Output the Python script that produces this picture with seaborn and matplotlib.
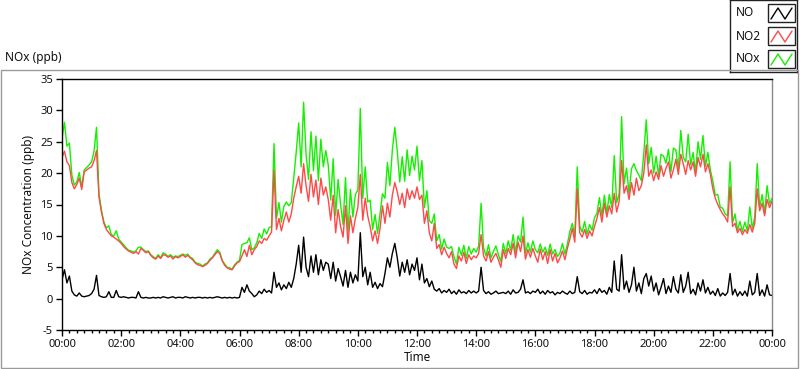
import numpy as np
import pandas as pd
import matplotlib
matplotlib.use("Agg")
import matplotlib.pyplot as plt
import seaborn as sns
from matplotlib.patches import Rectangle
from matplotlib.ticker import MultipleLocator, FuncFormatter

# ---- data: readings every 5 minutes from 00:00 to 24:00 (ppb) ----
interval_min = 5

no = [
    3.0, 4.6, 2.5, 3.6, 1.2, 0.6, 0.4, 0.9, 0.4, 0.3, 0.4, 0.5,
    0.8, 1.5, 3.7, 0.5, 0.3, 0.2, 0.3, 1.1, 0.2, 0.2, 1.3, 0.3,
    0.2, 0.3, 0.2, 0.1, 0.2, 0.2, 0.1, 1.1, 0.2, 0.1, 0.2, 0.1,
    0.1, 0.2, 0.1, 0.2, 0.1, 0.3, 0.2, 0.1, 0.2, 0.3, 0.1, 0.2,
    0.2, 0.1, 0.3, 0.2, 0.1, 0.2, 0.1, 0.2, 0.2, 0.1, 0.2, 0.1,
    0.2, 0.1, 0.2, 0.3, 0.2, 0.1, 0.2, 0.1, 0.2, 0.1, 0.2, 0.1,
    0.2, 1.8, 1.0, 2.2, 1.2, 0.8, 0.3, 0.6, 1.2, 0.8, 1.5, 1.0,
    1.3, 0.9, 4.2, 1.8, 2.5, 1.4, 2.2, 1.6, 2.6, 1.8, 3.2, 5.5,
    8.5, 4.2, 9.8, 5.0, 3.5, 6.8, 4.2, 7.0, 3.8, 6.2, 4.5, 5.8,
    5.5, 3.2, 5.8, 2.8, 4.8, 3.5, 2.0, 4.5, 1.8, 4.2, 2.5, 3.8,
    2.8, 10.5, 3.5, 5.0, 2.2, 4.2, 1.8, 2.6, 1.6, 2.4, 1.9, 4.0,
    6.5, 5.0, 7.2, 8.8, 6.5, 3.6, 5.8, 4.2, 6.2, 3.8, 5.5, 4.5,
    6.5, 3.0, 5.5, 2.5, 3.2, 1.9, 2.8, 1.5, 1.2, 1.6, 0.9, 1.3,
    1.0, 1.5, 0.8, 1.2, 0.7, 1.4, 0.9, 1.1, 0.8, 1.3, 0.9, 1.2,
    0.9, 1.2, 5.0, 1.3, 0.8, 1.1, 0.7, 0.9, 1.2, 0.8, 0.9, 1.0,
    0.8, 1.2, 0.7, 1.4, 0.9, 1.0, 1.5, 3.0, 0.9, 1.1, 0.8, 1.2,
    1.0, 1.5, 0.8, 1.2, 0.7, 1.3, 0.9, 1.1, 0.6, 1.0, 0.8, 1.2,
    0.9, 0.7, 1.2, 0.8, 1.0, 3.5, 1.1, 0.8, 1.3, 0.7, 1.0, 0.9,
    1.4, 0.8, 1.6, 1.0, 1.3, 0.7, 1.8, 1.0, 6.0, 1.5, 1.2, 7.0,
    1.5, 2.8, 1.0, 2.2, 5.0, 1.2, 2.5, 0.8, 3.2, 4.0, 2.0, 3.6,
    1.2, 2.5, 0.6, 1.8, 3.2, 0.8, 2.0, 1.0, 3.5, 1.5, 0.9, 3.8,
    1.0, 2.0, 4.2, 0.8, 1.5, 0.6, 2.5, 1.2, 3.0, 0.9, 1.8, 0.7,
    1.2, 0.5, 1.6, 0.4, 0.9, 0.5, 1.0, 4.0, 0.6, 1.5, 0.4, 1.1,
    0.5, 1.2, 0.4, 2.8, 0.6, 1.0, 4.0, 0.5, 1.4, 0.4, 2.2, 0.6,
    0.5,
]

no2 = [
    22.5, 23.5, 21.8, 21.2, 18.5, 17.5, 18.2, 19.2, 17.4, 20.2, 20.5, 20.8,
    21.0, 22.0, 23.6, 16.2, 13.8, 12.0, 11.0, 10.5, 10.0, 9.8, 9.5, 9.2,
    8.8, 8.3, 7.9, 7.6, 7.4, 7.2, 7.5, 7.1, 8.0, 7.7, 7.3, 7.5,
    6.9, 6.5, 6.3, 6.8, 6.4, 7.0, 6.9, 6.6, 6.8, 6.3, 6.7, 6.5,
    6.7, 7.0, 6.6, 6.9, 6.5, 6.2, 5.7, 5.4, 5.3, 5.1, 5.3, 5.6,
    6.1, 6.5, 7.0, 7.5, 7.2, 6.0, 5.3, 4.9, 4.7, 4.6, 5.2, 5.7,
    5.9, 6.8, 7.8, 6.7, 8.5, 7.0, 7.8, 8.3, 9.2, 8.8, 9.6, 9.3,
    10.0, 10.6, 20.5, 11.0, 12.8, 10.8, 12.5, 13.8, 12.2, 13.5, 16.0, 17.8,
    19.5, 16.8, 21.5, 18.0, 15.5, 19.8, 16.2, 18.9, 15.0, 19.2, 16.5, 17.8,
    15.8, 12.5, 16.5, 10.5, 14.2, 11.5, 9.8, 14.8, 8.8, 13.2, 10.5, 12.8,
    14.5, 19.8, 12.5, 16.0, 13.2, 11.5, 9.2, 10.8, 8.8, 11.2, 14.8, 12.0,
    15.2, 13.0, 16.5, 18.5, 17.0, 15.0, 16.8, 14.5, 17.5, 15.8, 17.2, 16.0,
    17.8, 15.8, 16.5, 12.0, 14.0, 10.5, 9.2, 12.0, 8.0, 8.6, 7.0, 8.2,
    7.2, 6.5, 7.5, 5.5, 4.8, 6.8, 6.0, 7.4, 5.6, 7.0, 6.2, 6.8,
    6.5, 7.2, 10.2, 6.8, 6.0, 7.5, 5.8, 6.6, 7.2, 6.2, 5.0, 7.8,
    6.4, 8.0, 7.0, 8.8, 6.5, 9.0, 7.5, 10.0, 6.3, 7.8, 6.6, 8.0,
    6.8, 5.8, 7.9, 6.2, 7.5, 5.6, 7.8, 6.0, 7.2, 5.7, 6.5, 7.6,
    6.2, 8.0, 9.5, 11.2, 9.0, 17.5, 10.5, 9.8, 11.0, 9.6, 10.8, 10.0,
    11.5, 12.8, 14.5, 12.2, 15.2, 13.0, 14.8, 13.5, 16.8, 13.8, 15.5, 22.0,
    16.8, 18.0, 15.8, 18.5, 16.5, 19.2, 17.2, 18.0, 20.0, 24.5, 19.5, 20.5,
    18.8, 20.2, 19.0, 21.2, 19.5, 20.8, 21.8, 19.2, 20.5, 22.2, 19.8, 23.0,
    21.5, 19.8, 22.0, 20.5, 21.8, 19.5, 22.5, 21.0, 23.0, 20.2, 21.5, 19.8,
    17.5, 16.0, 15.0, 14.2, 13.5, 13.0, 12.2, 17.8, 11.5, 12.0, 10.5, 11.2,
    10.2, 11.0, 10.4, 11.8, 10.6, 12.0, 17.5, 14.0, 15.2, 13.2, 15.8, 14.5,
    15.5,
]

nox = [
    25.5, 28.1, 24.3, 24.8, 19.7, 18.1, 18.6, 20.1, 17.8, 20.5, 20.9, 21.3,
    21.8, 23.5, 27.3, 16.7, 14.1, 12.2, 11.3, 11.6, 10.2, 10.0, 10.8, 9.5,
    9.0, 8.6, 8.1, 7.7, 7.6, 7.4, 7.6, 8.2, 8.2, 7.8, 7.5, 7.6,
    7.0, 6.7, 6.4, 7.0, 6.5, 7.3, 7.1, 6.7, 7.0, 6.6, 6.8, 6.7,
    6.9, 7.1, 6.9, 7.1, 6.6, 6.4, 5.8, 5.6, 5.5, 5.2, 5.5, 5.7,
    6.3, 6.6, 7.2, 7.8, 7.4, 6.1, 5.5, 5.0, 4.9, 4.7, 5.4, 5.8,
    6.1, 8.6, 8.8, 8.9, 9.7, 7.8, 8.1, 8.9, 10.4, 9.6, 11.1, 10.3,
    11.3, 11.5, 24.7, 12.8, 15.3, 12.2, 14.7, 15.4, 14.8, 15.3, 19.2, 23.3,
    28.0, 21.0, 31.3, 23.0, 19.0, 26.6, 20.4, 25.9, 18.8, 25.4, 21.0, 23.6,
    21.3, 15.7, 22.3, 13.3, 19.0, 15.0, 11.8, 19.3, 10.6, 17.4, 13.0, 16.6,
    17.3, 30.3, 16.0, 21.0, 15.4, 15.7, 11.0, 13.4, 10.4, 13.6, 16.7, 16.0,
    21.7, 18.0, 23.7, 27.3, 23.5, 18.6, 22.6, 18.7, 23.7, 19.6, 22.7, 20.5,
    24.3, 18.8, 22.0, 14.5, 17.2, 12.4, 12.0, 13.5, 9.2, 10.2, 7.9, 9.5,
    8.2, 8.0, 8.3, 6.7, 5.5, 8.2, 6.9, 8.5, 6.4, 8.3, 7.1, 8.0,
    7.4, 8.4, 15.2, 8.1, 6.8, 8.6, 6.5, 7.5, 8.4, 7.0, 5.9, 8.8,
    7.2, 9.2, 7.7, 10.2, 7.4, 10.0, 9.0, 13.0, 7.2, 8.9, 7.4, 9.2,
    7.8, 7.3, 8.7, 7.4, 8.2, 6.9, 8.7, 7.1, 7.8, 6.7, 7.3, 8.8,
    7.1, 8.7, 10.7, 12.0, 10.0, 21.0, 11.6, 10.6, 12.3, 10.3, 11.8, 10.9,
    12.9, 13.6, 16.1, 13.2, 16.5, 13.7, 16.6, 14.5, 22.8, 15.3, 16.7, 29.0,
    18.3, 20.8, 16.8, 20.7, 21.5, 20.4, 19.7, 18.8, 23.2, 28.5, 21.5, 24.1,
    20.0, 22.7, 19.6, 23.0, 22.7, 21.6, 23.8, 20.2, 24.0, 23.7, 20.7, 26.8,
    22.5, 21.8, 26.2, 21.3, 23.3, 20.1, 25.0, 22.2, 26.0, 21.1, 23.3, 20.5,
    18.7, 16.5, 16.6, 14.6, 14.4, 13.5, 13.2, 21.8, 12.1, 13.5, 10.9, 12.3,
    10.7, 12.2, 10.8, 14.6, 11.2, 13.0, 21.5, 14.5, 16.6, 13.6, 18.0, 15.1,
    16.0,
]

series_names = ["NO", "NO2", "NOx"]
series_colors = {"NO": "#000000", "NO2": "#FF4848", "NOx": "#14F000"}

n = len(no)
hours = np.arange(n) * interval_min / 60.0

df = pd.DataFrame({
    "hours": np.concatenate([hours, hours, hours]),
    "value": nox + no2 + no,
    "series": ["NOx"] * n + ["NO2"] * n + ["NO"] * n,
})

sns.set_theme(style="white")
plt.rcParams["font.family"] = ["Noto Sans", "DejaVu Sans"]
plt.rcParams["axes.unicode_minus"] = False

W, H = 800, 369
fig = plt.figure(figsize=(W / 100, H / 100), dpi=100)
fig.patch.set_facecolor("white")

# outer panel frame
fig.add_artist(Rectangle((1 / W, 1 / H), 797 / W, (368 - 70) / H,
                         transform=fig.transFigure, fill=False,
                         ec="#9a9a9a", lw=1.0))

ax = fig.add_axes([62 / W, 1 - 330 / H, 710 / W, 251 / H])
ax.set_facecolor("white")
sns.lineplot(data=df, x="hours", y="value", hue="series",
             hue_order=["NOx", "NO2", "NO"], palette=series_colors,
             linewidth=1.0, estimator=None, sort=False, legend=False, ax=ax)

ax.set_xlim(0, 24)
ax.set_ylim(-5, 35)
ax.xaxis.set_major_locator(MultipleLocator(2))
ax.xaxis.set_minor_locator(MultipleLocator(0.25))
ax.xaxis.set_major_formatter(FuncFormatter(lambda v, p: f"{int(round(v)) % 24:02d}:00"))
ax.yaxis.set_major_locator(MultipleLocator(5))
ax.tick_params(axis="both", which="major", direction="out", length=4.5, width=1,
               color="black", labelsize=8, labelcolor="#101010", pad=2,
               bottom=True, left=True)
ax.tick_params(axis="x", which="minor", direction="out", length=2.5, width=1,
               color="black", bottom=True)
ax.set_xlabel("Time", fontsize=8.5, color="#101010", labelpad=1)
ax.set_ylabel("NOx Concentration (ppb)", fontsize=8.5, color="#101010", labelpad=4)
for side in ["left", "bottom", "top"]:
    ax.spines[side].set_color("black")
    ax.spines[side].set_linewidth(1)
ax.spines["right"].set_color("#888888")
ax.spines["right"].set_linewidth(1)
ax.grid(False)

fig.text(5 / W, 1 - 57 / H, "NOx (ppb)", fontsize=8.5, color="#101010",
         ha="left", va="center")

# LabVIEW-style legend box at top right
lax = fig.add_axes([730 / W, 1 - 72 / H, 67 / W, 72 / H])
lax.set_xlim(0, 67)
lax.set_ylim(72, 0)
lax.set_facecolor("white")
for s in lax.spines.values():
    s.set_color("#222222")
    s.set_linewidth(1)
lax.set_xticks([])
lax.set_yticks([])
for i, name in enumerate(series_names):
    cy = 13 + i * 23
    lax.text(6, cy, name, fontsize=8.5, color="#101010", ha="left", va="center")
    lax.add_patch(Rectangle((38, cy - 9), 27, 18, fill=False, ec="#222222", lw=1))
    lax.plot([41, 48, 55, 62], [cy + 6, cy - 5, cy + 6, cy - 5],
             color=series_colors[name], lw=1)

fig.savefig("out.png", dpi=100, facecolor="white")
